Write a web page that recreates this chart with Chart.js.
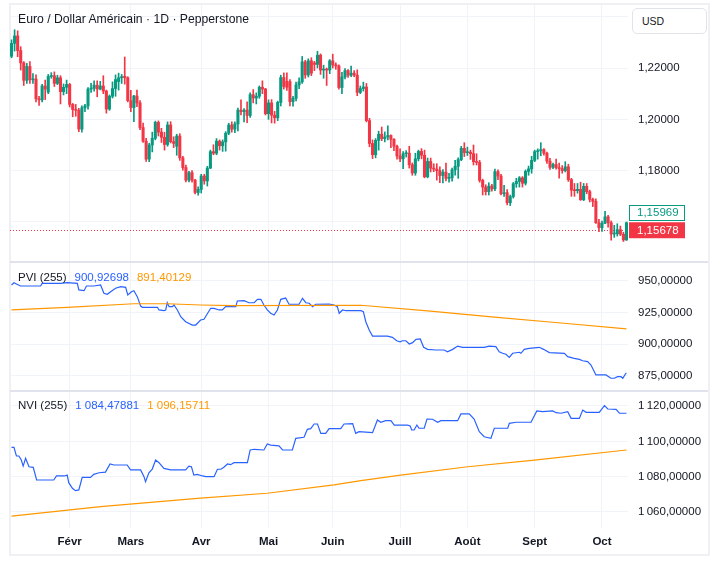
<!DOCTYPE html>
<html lang="fr">
<head>
<meta charset="UTF-8">
<title>Euro / Dollar Américain · 1D · Pepperstone</title>
<script src="https://cdn.jsdelivr.net/npm/chart.js"></script>
<style>
  body { margin: 0; background: #fff; font-family: 'Liberation Sans', Arial, sans-serif; color: #131722; }
  .frame { position: absolute; left: 9px; top: 3px; width: 701px; height: 553px; border: 2px solid #eef0f3; box-sizing: border-box; }
  #chart { position: absolute; left: 10px; top: 5px; }
  .title { position: absolute; left: 18px; top: 12px; font-size: 12.2px; white-space: nowrap; }
  .usd { position: absolute; left: 632px; top: 8px; width: 75px; height: 26px; border: 1px solid #e0e3eb; border-radius: 5px;
         box-sizing: border-box; font-size: 10.5px; line-height: 24px; padding-left: 9px; background: #fff; }
  .legend { position: absolute; left: 18px; font-size: 11.5px; white-space: nowrap; }
  .legend span + span { margin-left: 8px; }
  .blue { color: #2962ff; }
  .orange { color: #ff9800; }
</style>
</head>
<body>
<div class="frame"></div>
<canvas id="chart" width="698" height="550"></canvas>
<div class="title">Euro / Dollar Américain · 1D · Pepperstone</div>
<div class="usd">USD</div>
<div class="legend" style="top:271px"><span>PVI (255)</span><span class="blue">900,92698</span><span class="orange">891,40129</span></div>
<div class="legend" style="top:399px"><span>NVI (255)</span><span class="blue">1 084,47881</span><span class="orange">1 096,15711</span></div>

<script>
// jours de cotation (barres journalières)
const dates = [
  '2021-01-05','2021-01-06','2021-01-07','2021-01-08','2021-01-11','2021-01-12','2021-01-13','2021-01-14','2021-01-15','2021-01-18',
  '2021-01-19','2021-01-20','2021-01-21','2021-01-22','2021-01-25','2021-01-26','2021-01-27','2021-01-28','2021-01-29',
  '2021-02-01','2021-02-02','2021-02-03','2021-02-04','2021-02-05','2021-02-08','2021-02-09','2021-02-10','2021-02-11','2021-02-12',
  '2021-02-15','2021-02-16','2021-02-17','2021-02-18','2021-02-19','2021-02-22','2021-02-23','2021-02-24','2021-02-25','2021-02-26',
  '2021-03-01','2021-03-02','2021-03-03','2021-03-04','2021-03-05','2021-03-08','2021-03-09','2021-03-10','2021-03-11','2021-03-12',
  '2021-03-15','2021-03-16','2021-03-17','2021-03-18','2021-03-19','2021-03-22','2021-03-23','2021-03-24','2021-03-25','2021-03-26',
  '2021-03-29','2021-03-30','2021-03-31',
  '2021-04-01','2021-04-02','2021-04-05','2021-04-06','2021-04-07','2021-04-08','2021-04-09','2021-04-12','2021-04-13','2021-04-14',
  '2021-04-15','2021-04-16','2021-04-19','2021-04-20','2021-04-21','2021-04-22','2021-04-23','2021-04-26','2021-04-27','2021-04-28',
  '2021-04-29','2021-04-30',
  '2021-05-03','2021-05-04','2021-05-05','2021-05-06','2021-05-07','2021-05-10','2021-05-11','2021-05-12','2021-05-13','2021-05-14',
  '2021-05-17','2021-05-18','2021-05-19','2021-05-20','2021-05-21','2021-05-24','2021-05-25','2021-05-26','2021-05-27','2021-05-28',
  '2021-05-31',
  '2021-06-01','2021-06-02','2021-06-03','2021-06-04','2021-06-07','2021-06-08','2021-06-09','2021-06-10','2021-06-11','2021-06-14',
  '2021-06-15','2021-06-16','2021-06-17','2021-06-18','2021-06-21','2021-06-22','2021-06-23','2021-06-24','2021-06-25','2021-06-28',
  '2021-06-29','2021-06-30',
  '2021-07-01','2021-07-02','2021-07-05','2021-07-06','2021-07-07','2021-07-08','2021-07-09','2021-07-12','2021-07-13','2021-07-14',
  '2021-07-15','2021-07-16','2021-07-19','2021-07-20','2021-07-21','2021-07-22','2021-07-23','2021-07-26','2021-07-27','2021-07-28',
  '2021-07-29','2021-07-30',
  '2021-08-02','2021-08-03','2021-08-04','2021-08-05','2021-08-06','2021-08-09','2021-08-10','2021-08-11','2021-08-12','2021-08-13',
  '2021-08-16','2021-08-17','2021-08-18','2021-08-19','2021-08-20','2021-08-23','2021-08-24','2021-08-25','2021-08-26','2021-08-27',
  '2021-08-30','2021-08-31',
  '2021-09-01','2021-09-02','2021-09-03','2021-09-06','2021-09-07','2021-09-08','2021-09-09','2021-09-10','2021-09-13','2021-09-14',
  '2021-09-15','2021-09-16','2021-09-17','2021-09-20','2021-09-21','2021-09-22','2021-09-23','2021-09-24','2021-09-27','2021-09-28',
  '2021-09-29','2021-09-30',
  '2021-10-01','2021-10-04','2021-10-05','2021-10-06','2021-10-07','2021-10-08','2021-10-11','2021-10-12','2021-10-13'
];
const monthNames = ['Janv', 'Févr', 'Mars', 'Avr', 'Mai', 'Juin', 'Juill', 'Août', 'Sept', 'Oct', 'Nov', 'Déc'];

// OHLC EUR/USD (une ligne par mois)
const opens = [
  1.2246,1.2296,1.2325,1.2268,1.2220,1.2152,1.2206,1.2154,1.2157,1.2080,1.2076,1.2130,1.2106,1.2167,1.2170,1.2140,1.2162,1.2108,1.2125,
  1.2136,1.2058,1.2038,1.2035,1.1962,1.2045,1.2052,1.2118,1.2121,1.2133,1.2118,1.2130,1.2110,1.2040,1.2090,1.2120,1.2147,1.2162,1.2168,1.2162,
  1.2073,1.2046,1.2091,1.2064,1.1968,1.1915,1.1845,1.1900,1.1926,1.1988,1.1950,1.1930,1.1902,1.1978,1.1913,1.1895,1.1935,1.1850,1.1812,1.1763,1.1792,1.1763,1.1715,
  1.1727,1.1779,1.1760,1.1810,1.1874,1.1868,1.1915,1.1897,1.1912,1.1946,1.1978,1.1962,1.1982,1.2036,1.2030,1.2036,1.2015,1.2096,1.2083,1.2090,1.2125,1.2118,
  1.2022,1.2064,1.2016,1.2006,1.2066,1.2163,1.2148,1.2147,1.2069,1.2082,1.2134,1.2146,1.2224,1.2173,1.2228,1.2220,1.2214,1.2250,1.2192,1.2195,1.2192,
  1.2228,1.2212,1.2208,1.2124,1.2165,1.2190,1.2172,1.2180,1.2172,1.2105,1.2120,1.2126,1.1995,1.1906,1.1862,1.1918,1.1942,1.1925,1.1931,1.1937,1.1922,1.1895,
  1.1857,1.1846,1.1866,1.1868,1.1823,1.1791,1.1846,1.1875,1.1860,1.1776,1.1836,1.1810,1.1806,1.1800,1.1781,1.1794,1.1770,1.1772,1.1803,1.1817,1.1843,1.1887,
  1.1870,1.1872,1.1866,1.1835,1.1832,1.1762,1.1736,1.1718,1.1740,1.1729,1.1796,1.1779,1.1710,1.1714,1.1675,1.1699,1.1749,1.1758,1.1772,1.1751,1.1797,1.1807,
  1.1840,1.1874,1.1878,1.1882,1.1868,1.1837,1.1813,1.1824,1.1812,1.1808,1.1800,1.1815,1.1765,1.1724,1.1722,1.1727,1.1687,1.1739,1.1718,1.1688,1.1680,1.1597,
  1.1578,1.1595,1.1620,1.1597,1.1553,1.1554,1.1570,1.1552,1.1530
];
const highs = [
  1.2310,1.2349,1.2345,1.2283,1.2225,1.2218,1.2225,1.2178,1.2173,1.2090,1.2136,1.2153,1.2175,1.2182,1.2185,1.2172,1.2170,1.2138,1.2153,
  1.2140,1.2062,1.2058,1.2043,1.2053,1.2058,1.2124,1.2140,1.2150,1.2150,1.2148,1.2170,1.2114,1.2095,1.2146,1.2173,1.2180,1.2175,1.2243,1.2166,
  1.2113,1.2094,1.2114,1.2073,1.1985,1.1926,1.1907,1.1950,1.1993,1.1994,1.1965,1.1950,1.1990,1.1991,1.1932,1.1942,1.1944,1.1856,1.1822,1.1797,1.1800,1.1766,1.1737,
  1.1786,1.1786,1.1817,1.1880,1.1901,1.1925,1.1920,1.1920,1.1952,1.1985,1.1990,1.1990,1.2044,1.2076,1.2042,1.2068,1.2103,1.2116,1.2103,1.2130,1.2150,1.2121,
  1.2076,1.2077,1.2031,1.2071,1.2172,1.2181,1.2181,1.2155,1.2090,1.2145,1.2162,1.2245,1.2230,1.2236,1.2240,1.2226,1.2265,1.2255,1.2211,1.2200,1.2233,
  1.2254,1.2220,1.2212,1.2183,1.2198,1.2194,1.2208,1.2190,1.2193,1.2130,1.2145,1.2140,1.2004,1.1920,1.1925,1.1954,1.1970,1.1951,1.1975,1.1940,1.1925,1.1900,
  1.1885,1.1874,1.1878,1.1895,1.1830,1.1868,1.1880,1.1886,1.1880,1.1849,1.1849,1.1827,1.1827,1.1815,1.1804,1.1830,1.1790,1.1810,1.1840,1.1850,1.1895,1.1909,
  1.1892,1.1880,1.1900,1.1866,1.1840,1.1767,1.1745,1.1753,1.1747,1.1806,1.1803,1.1786,1.1743,1.1726,1.1705,1.1754,1.1770,1.1777,1.1777,1.1803,1.1818,1.1856,
  1.1880,1.1885,1.1909,1.1886,1.1872,1.1848,1.1830,1.1845,1.1830,1.1820,1.1835,1.1825,1.1770,1.1750,1.1750,1.1755,1.1750,1.1750,1.1724,1.1693,1.1690,1.1610,
  1.1603,1.1641,1.1626,1.1604,1.1587,1.1593,1.1584,1.1560,1.1600
];
const lows = [
  1.2240,1.2266,1.2244,1.2192,1.2132,1.2140,1.2140,1.2140,1.2068,1.2054,1.2068,1.2077,1.2100,1.2160,1.2128,1.2135,1.2060,1.2095,1.2100,
  1.2048,1.2010,1.2012,1.1952,1.1950,1.2030,1.2040,1.2105,1.2110,1.2088,1.2115,1.2100,1.2024,1.2035,1.2083,1.2090,1.2114,1.2140,1.2137,1.2068,
  1.2030,1.1991,1.2049,1.1960,1.1910,1.1836,1.1835,1.1873,1.1920,1.1935,1.1910,1.1880,1.1895,1.1908,1.1890,1.1860,1.1840,1.1802,1.1756,1.1756,1.1755,1.1709,1.1704,
  1.1713,1.1747,1.1740,1.1808,1.1862,1.1862,1.1880,1.1875,1.1876,1.1940,1.1950,1.1948,1.1955,1.2017,1.1990,1.1987,1.2007,1.2064,1.2060,1.2082,1.2100,1.2017,
  1.2000,1.1986,1.1985,1.1995,1.2052,1.2118,1.2113,1.2052,1.2051,1.2072,1.2120,1.2140,1.2160,1.2165,1.2170,1.2190,1.2200,1.2175,1.2160,1.2132,1.2178,
  1.2200,1.2195,1.2118,1.2100,1.2158,1.2163,1.2166,1.2166,1.2092,1.2100,1.2110,1.1990,1.1893,1.1847,1.1850,1.1880,1.1917,1.1912,1.1920,1.1890,1.1878,1.1845,
  1.1835,1.1808,1.1853,1.1810,1.1782,1.1782,1.1838,1.1846,1.1772,1.1772,1.1795,1.1796,1.1763,1.1753,1.1752,1.1760,1.1755,1.1759,1.1782,1.1770,1.1839,1.1855,
  1.1859,1.1844,1.1822,1.1822,1.1755,1.1705,1.1705,1.1705,1.1720,1.1722,1.1765,1.1705,1.1700,1.1666,1.1664,1.1693,1.1735,1.1736,1.1736,1.1744,1.1782,1.1790,
  1.1835,1.1845,1.1858,1.1860,1.1828,1.1805,1.1808,1.1806,1.1771,1.1790,1.1795,1.1758,1.1700,1.1700,1.1712,1.1684,1.1683,1.1710,1.1678,1.1660,1.1594,1.1562,
  1.1563,1.1593,1.1580,1.1529,1.1540,1.1545,1.1547,1.1524,1.1528
];
const closes = [
  1.2296,1.2325,1.2268,1.2220,1.2152,1.2206,1.2154,1.2157,1.2080,1.2076,1.2130,1.2118,1.2167,1.2170,1.2140,1.2162,1.2108,1.2125,1.2136,
  1.2058,1.2038,1.2035,1.1962,1.2045,1.2052,1.2118,1.2121,1.2133,1.2118,1.2130,1.2110,1.2040,1.2090,1.2120,1.2155,1.2162,1.2166,1.2162,1.2073,
  1.2046,1.2091,1.2064,1.1968,1.1915,1.1845,1.1900,1.1926,1.1988,1.1950,1.1930,1.1902,1.1978,1.1913,1.1906,1.1935,1.1850,1.1812,1.1763,1.1792,1.1763,1.1715,1.1727,
  1.1779,1.1760,1.1810,1.1874,1.1868,1.1915,1.1897,1.1912,1.1946,1.1978,1.1962,1.1982,1.2036,1.2030,1.2036,1.2015,1.2096,1.2083,1.2090,1.2125,1.2118,1.2022,
  1.2064,1.2016,1.2006,1.2066,1.2163,1.2128,1.2125,1.2069,1.2082,1.2134,1.2146,1.2224,1.2173,1.2228,1.2180,1.2214,1.2250,1.2192,1.2195,1.2192,1.2228,
  1.2212,1.2208,1.2124,1.2165,1.2190,1.2172,1.2180,1.2172,1.2105,1.2120,1.2126,1.1995,1.1906,1.1862,1.1918,1.1942,1.1925,1.1931,1.1937,1.1922,1.1895,1.1857,
  1.1846,1.1866,1.1868,1.1823,1.1791,1.1846,1.1875,1.1860,1.1776,1.1836,1.1810,1.1806,1.1800,1.1781,1.1794,1.1770,1.1772,1.1803,1.1817,1.1843,1.1887,1.1870,
  1.1872,1.1866,1.1835,1.1832,1.1762,1.1736,1.1718,1.1740,1.1729,1.1796,1.1779,1.1710,1.1714,1.1675,1.1699,1.1749,1.1758,1.1772,1.1751,1.1797,1.1807,1.1840,
  1.1874,1.1878,1.1882,1.1868,1.1837,1.1813,1.1824,1.1812,1.1808,1.1800,1.1815,1.1765,1.1724,1.1722,1.1727,1.1687,1.1739,1.1718,1.1688,1.1680,1.1597,1.1578,
  1.1595,1.1620,1.1597,1.1553,1.1554,1.1570,1.1552,1.1530,1.15969
];
const refPrice = 1.15678;              // ligne pointillée rouge
const priceTickLabels = [1.18, 1.20, 1.22];

// PVI / NVI : sommets [indice de barre, valeur]
const pviLine = [[0,946.6],[0.8,948.4],[2.9,945.8],[9.5,945.8],[10,947.9],[16,947.9],[18.2,948.4],[21.5,947.9],[22,942.7],[23.7,942.1],
  [24.5,945.8],[26.9,945.8],[29.1,946.6],[30.2,940.1],[31.3,939.3],[32.4,941.3],[34,944],[35.7,945.3],[37.3,944.8],[38,938.7],
  [39.2,941.3],[40,942.1],[41.1,937.4],[42.2,930],[42.8,929],[47.7,929],[48.2,926.9],[49.8,926.3],[50.4,926.9],[50.9,932.6],
  [51.5,929.5],[52.6,929.5],[53.1,930.8],[54.2,926.9],[55.3,921.6],[56.9,917.6],[59.1,915],[60.2,915],[61.8,919],[62.9,919.5],
  [65.1,928.2],[66.2,928.2],[67.8,926.9],[68.9,926.9],[70,929.5],[73.3,929.5],[73.8,934],[76,934.2],[77.6,932.6],[79.3,932.6],
  [80.4,935.3],[81.5,935.3],[82.5,930.8],[83.6,926.9],[84.7,924.3],[85.8,922.9],[86.9,926.9],[88,935.3],[89.6,936.3],[90.7,931.4],
  [94,931.4],[95.1,936.1],[96.2,932.6],[97.3,932.2],[98.4,929.5],[99.4,931.4],[103.8,931.6],[105.4,930.8],[106.5,929.5],[107.1,924.3],
  [108.2,926.9],[109.3,926.3],[114.2,926.3],[115,925.5],[115.8,917.6],[116.9,911.1],[118,906.3],[122.9,906.3],[124.5,905.3],[125.9,902.6],
  [127,901.8],[127.8,902.6],[128.9,902.6],[130,900],[131.1,901.1],[132.2,903.7],[133.6,904],[134.7,897.4],[136,895.8],[138.7,895.3],
  [141.4,895.3],[142.5,893.9],[144.2,895.8],[145.8,898.4],[147.4,897.4],[154.5,897.4],[156.1,898.4],[158.3,897.9],[159.4,893.9],[160.5,892.7],
  [161.6,891.9],[162.7,889.5],[163.8,892.7],[166,893.5],[166.5,892.7],[167.6,895.8],[169.2,896.6],[172.5,897.4],[173.9,895.8],[175.8,893.2],
  [180.7,892.7],[181.8,890],[183.9,888.7],[185.6,887.9],[186.7,886.8],[188.3,886.1],[189.4,883.4],[190.5,878.2],[191,875.6],[194.3,875.6],
  [195.9,873],[197,873],[198.1,874.2],[199.2,874.2],[199.8,873],[200.8,876.9],[201,876.9]];
const pviSignal = [[0,926.9],[18.2,929],[40,931.8],[50.9,931.8],[61.8,930.8],[72.6,930.3],[114.2,930.6],[136,926.1],[157.8,921.3],[179.6,916.6],[201,911.9]];

const nviLine = [[0,1096.6],[0.8,1096.6],[1.6,1091.7],[2.4,1091.7],[3.2,1089.4],[3.8,1086],[4.6,1090.4],[5.7,1085.6],[7.1,1085.3],[8.2,1078.1],
  [13.8,1078.1],[14.7,1080.4],[17.3,1080.4],[18.2,1080.9],[18.7,1076.6],[19.9,1073.4],[20.9,1072.1],[22,1072.5],[23.1,1079.6],[25.8,1079.6],
  [26.9,1081.3],[28.6,1082.2],[30.7,1082.6],[32.2,1087.2],[33.5,1086.6],[37.8,1086.6],[38.9,1083.8],[42.2,1083.8],[43.3,1080],[43.8,1077.2],
  [44.9,1082.2],[46,1084.3],[47.1,1089.4],[48.2,1087.9],[49.8,1084.7],[52,1083.8],[56.9,1083.8],[58,1086],[58.8,1085.6],[59.6,1080.9],
  [60.7,1081.3],[62.4,1080.4],[63.5,1080],[66.2,1080],[67.3,1084.2],[68.4,1084.2],[69.4,1085.3],[70.6,1087.2],[71.6,1086.8],[72.7,1087.9],
  [77.1,1087.9],[78,1095.1],[79.3,1095.5],[82.5,1095.1],[83.6,1098.5],[84.7,1097.9],[87.4,1097.4],[88.6,1095.1],[91.8,1095.1],[92.9,1101.7],
  [95.6,1102.3],[96.7,1106.8],[97.8,1107.2],[98.9,1109.8],[100,1109.8],[101.1,1104.5],[102.7,1104.5],[103.8,1107.2],[107.6,1107.2],[108.7,1109.8],
  [111.5,1110],[112.5,1104.5],[113.6,1105.5],[118,1104.9],[119.6,1112.1],[120.7,1110.8],[122.3,1111.7],[124,1111.7],[125.1,1109.2],[129.4,1109.2],
  [130.3,1108.7],[130.8,1106.4],[131.6,1106.4],[132.5,1109.2],[133.2,1107.4],[134.9,1107.4],[135.8,1112.6],[137.6,1112.5],[139.3,1110.8],[140.3,1111.7],
  [145.8,1111.7],[146.9,1115.5],[149.6,1115.5],[151.2,1112.6],[152.9,1105.5],[154.5,1102.6],[156.7,1101.7],[157.8,1107.4],[162.2,1107.4],[162.7,1110.2],
  [164.9,1110.8],[169.8,1110.8],[171.7,1117.2],[173.6,1116.8],[176.9,1117.2],[178,1116.2],[179.6,1115.9],[181.8,1116.8],[182.9,1113],[185.6,1113],
  [186.7,1117.7],[187.8,1116.4],[192.1,1116.4],[193.8,1120.2],[194.9,1118.3],[197.6,1118.1],[198.7,1115.9],[201,1115.9]];
const nviSignal = [[0,1057.7],[29.1,1063],[61.8,1067.8],[83.6,1070.6],[105.4,1075.3],[114.2,1077.8],[127.2,1080.9],[149.1,1085.6],[170.9,1089.4],[201,1095.1]];

const UP = '#089981', DOWN = '#f23645', GRID = '#f0f3fa', TEXT = '#131722';

// format français : 1 120,00000
function fmt(v, dec) {
  const parts = v.toFixed(dec).split('.');
  parts[0] = parts[0].replace(/\B(?=(\d{3})+(?!\d))/g, '\u202f');
  return parts.join(',');
}
function isMonthStart(i) {
  return i > 0 && i < dates.length && dates[i].slice(5, 7) !== dates[i - 1].slice(5, 7);
}

const barColors = closes.map((c, i) => c >= opens[i] ? UP : DOWN);
const toXY = arr => arr.map(p => ({ x: p[0], y: p[1] }));

Chart.defaults.font.family = "'Liberation Sans', Arial, sans-serif";
Chart.defaults.font.size = 11.5;
Chart.defaults.color = TEXT;

const fixY = s => { s.width = 80; s.paddingTop = 0; s.paddingBottom = 0; };

const paneDecor = {
  id: 'paneDecor',
  beforeDatasetsDraw(chart) {
    const { ctx, chartArea } = chart;
    const y = Math.round(chart.scales.yp.getPixelForValue(refPrice)) + 0.5;
    ctx.save();
    ctx.strokeStyle = DOWN;
    ctx.lineWidth = 1;
    ctx.setLineDash([1, 2]);
    ctx.beginPath();
    ctx.moveTo(chartArea.left, y);
    ctx.lineTo(chartArea.right, y);
    ctx.stroke();
    ctx.restore();
  },
  afterDraw(chart) {
    const { ctx, chartArea } = chart;
    const yp = chart.scales.yp, yv = chart.scales.ypvi;
    ctx.save();
    // séparateurs de panneaux
    ctx.fillStyle = '#e0e3eb';
    [yp.bottom, yv.bottom].forEach(b => ctx.fillRect(0, Math.round(b) - 1, chart.width, 2));

    // étiquettes de prix
    const last = closes[closes.length - 1];
    const yRef = yp.getPixelForValue(refPrice);
    const yLast = Math.min(yp.getPixelForValue(last), yRef - 17.5);
    const bx = chartArea.right + 1, bw = 56, bh = 16;
    ctx.font = "11.5px 'Liberation Sans', Arial, sans-serif";
    ctx.textBaseline = 'middle';
    ctx.textAlign = 'left';

    ctx.fillStyle = '#fff';
    ctx.fillRect(bx, yLast - bh / 2, bw, bh);
    ctx.strokeStyle = UP;
    ctx.lineWidth = 1;
    ctx.strokeRect(bx + 0.5, Math.round(yLast - bh / 2) + 0.5, bw - 1, bh - 1);
    ctx.fillStyle = UP;
    ctx.fillText(fmt(last, 5), bx + 8, yLast + 0.5);

    ctx.fillStyle = DOWN;
    ctx.fillRect(bx, yRef - bh / 2, bw, bh);
    ctx.fillStyle = '#fff';
    ctx.fillText(fmt(refPrice, 5), bx + 8, yRef + 0.5);
    ctx.restore();
  }
};

new Chart(document.getElementById('chart'), {
  type: 'bar',
  data: {
    labels: dates,
    datasets: [
      { // mèches
        data: lows.map((l, i) => [l, highs[i]]),
        backgroundColor: barColors, barThickness: 1, grouped: false,
        xAxisID: 'x', yAxisID: 'yp', order: 2
      },
      { // corps
        data: opens.map((o, i) => [o, closes[i]]),
        backgroundColor: barColors, barThickness: 2.4, minBarLength: 1, grouped: false,
        xAxisID: 'x', yAxisID: 'yp', order: 1
      },
      { type: 'line', data: toXY(pviSignal), borderColor: '#ff9800', borderWidth: 1.2, pointRadius: 0, xAxisID: 'xi', yAxisID: 'ypvi' },
      { type: 'line', data: toXY(pviLine), borderColor: '#2962ff', borderWidth: 1.2, pointRadius: 0, xAxisID: 'xi', yAxisID: 'ypvi' },
      { type: 'line', data: toXY(nviSignal), borderColor: '#ff9800', borderWidth: 1.2, pointRadius: 0, xAxisID: 'xi', yAxisID: 'ynvi' },
      { type: 'line', data: toXY(nviLine), borderColor: '#2962ff', borderWidth: 1.2, pointRadius: 0, xAxisID: 'xi', yAxisID: 'ynvi' }
    ]
  },
  options: {
    responsive: false,
    animation: false,
    events: [],
    plugins: { legend: { display: false }, tooltip: { enabled: false } },
    scales: {
      x: {
        type: 'category',
        offset: true,
        border: { display: false },
        grid: { offset: false, drawTicks: false, color: ctx => isMonthStart(ctx.index) ? GRID : 'rgba(0,0,0,0)' },
        ticks: {
          autoSkip: false, maxRotation: 0, padding: 7, color: TEXT,
          font: { size: 11.5, weight: 'bold' },
          callback: (v, i) => isMonthStart(i) ? monthNames[+dates[i].slice(5, 7) - 1] : ''
        },
        afterFit: s => { s.height = 27; s.paddingLeft = 0; s.paddingRight = 0; }
      },
      xi: {
        type: 'linear', display: false, offset: false, grid: { offset: false },
        min: -0.5, max: dates.length - 0.5
      },
      yp: {
        position: 'right', stack: 'panes', stackWeight: 257,
        min: 1.1444, max: 1.24456,
        border: { display: false },
        grid: { color: GRID, drawTicks: false },
        ticks: {
          stepSize: 0.02, includeBounds: false, padding: 10,
          callback: v => priceTickLabels.some(t => Math.abs(t - v) < 1e-6) ? fmt(v, 5) : ''
        },
        afterFit: fixY
      },
      ypvi: {
        position: 'right', stack: 'panes', stackWeight: 129,
        min: 862.92, max: 964.76,
        border: { display: false },
        grid: { color: GRID, drawTicks: false },
        ticks: { stepSize: 25, includeBounds: false, padding: 10, callback: v => fmt(v, 5) },
        afterFit: fixY
      },
      ynvi: {
        position: 'right', stack: 'panes', stackWeight: 137,
        min: 1050.94, max: 1128.49,
        border: { display: false },
        grid: { color: GRID, drawTicks: false },
        ticks: { stepSize: 20, includeBounds: false, padding: 10, callback: v => fmt(v, 5) },
        afterFit: fixY
      }
    }
  },
  plugins: [paneDecor]
});
</script>
</body>
</html>
